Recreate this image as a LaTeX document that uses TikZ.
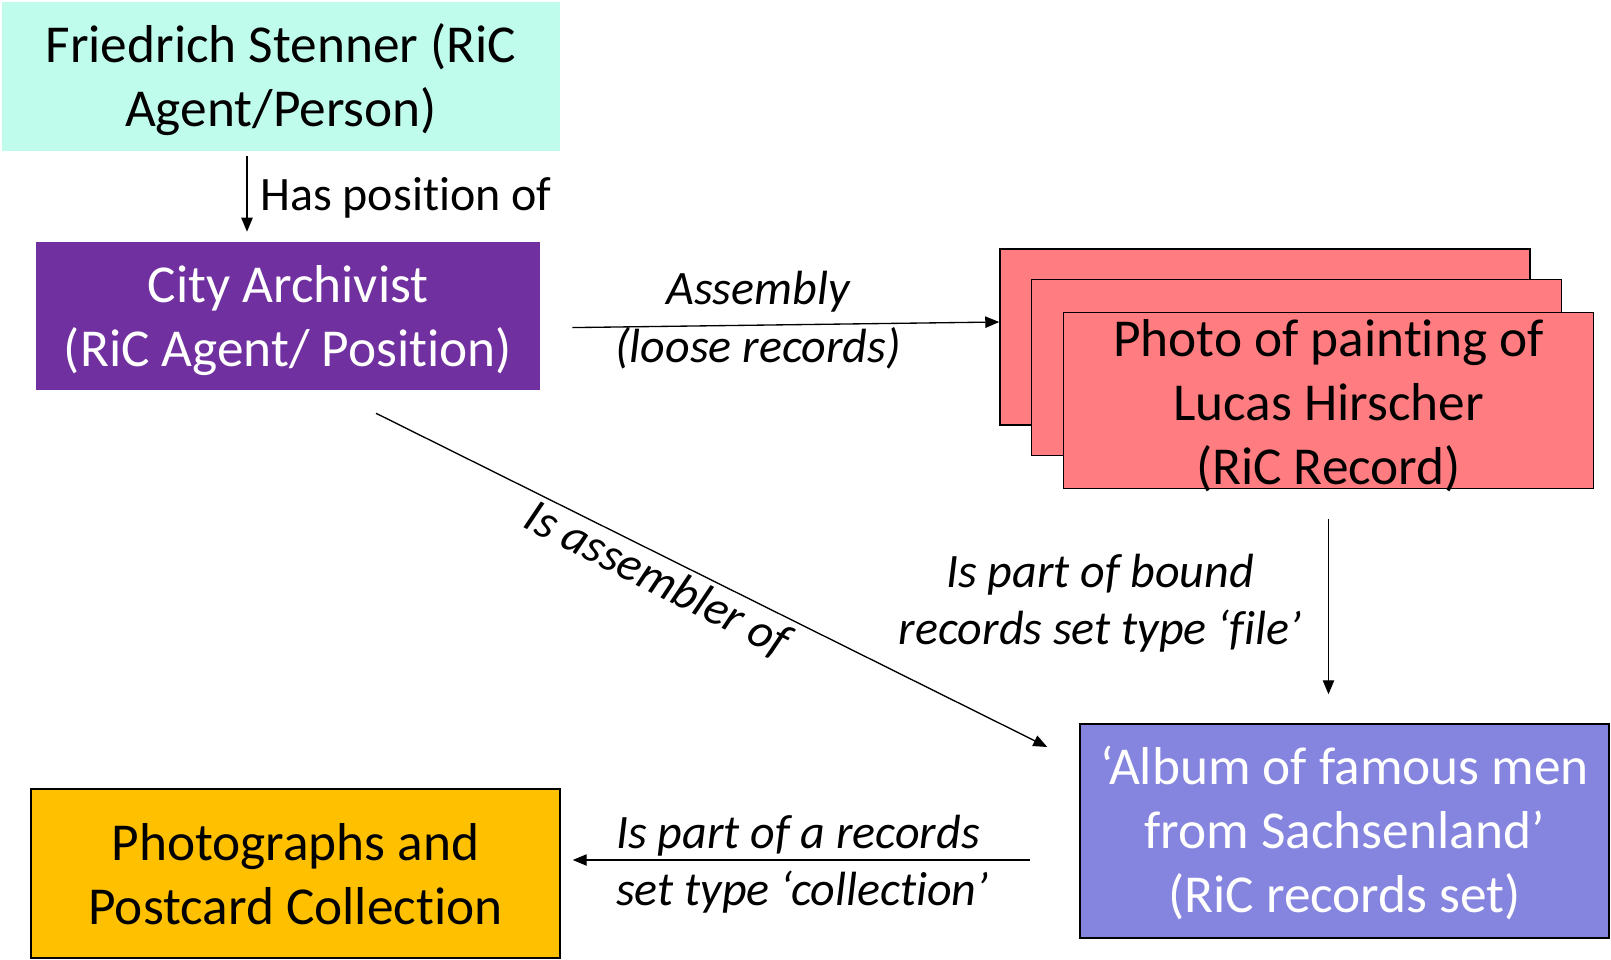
\documentclass[tikz,border=0pt]{standalone}
\usepackage{fontspec}
\setmainfont[Ligatures=NoCommon,RawFeature={-liga;-clig;-calt}]{Carlito}
\usetikzlibrary{arrows.meta}
\definecolor{cyanbox}{RGB}{192,252,236}
\definecolor{purplebox}{RGB}{112,48,160}
\definecolor{redbox}{RGB}{255,124,128}
\definecolor{bluebox}{RGB}{133,133,224}
\definecolor{orangebox}{RGB}{255,192,0}
\begin{document}
\begin{tikzpicture}[x=0.75pt,y=-0.75pt,
 box/.style={rectangle, inner sep=0pt},
 bordered/.style={box, draw=black, line width=1.1pt},
 boxtext/.style={inner sep=0pt, align=center, font=\fontsize{40}{48}\selectfont},
 lbl/.style={font=\fontsize{36}{43}\selectfont\itshape, align=center, inner sep=0pt},
 arr/.style={-{Triangle[length=10.5pt,width=8.5pt]}, line width=1pt}]
\useasboundingbox (0,0) rectangle (1611,960);
% boxes
\node[box, fill=cyanbox, minimum width=418.5pt, minimum height=111.75pt] (fs) at (281,76.5) {};
\node[boxtext] (fst) at (281,79.5) {Friedrich Stenner (RiC\\Agent/Person)};
\node[box, fill=purplebox, minimum width=378pt, minimum height=111pt] (ca) at (288,316) {};
\node[boxtext, text=white] (cat) at (288,321) {City Archivist\\(RiC Agent/ Position)};
\node[bordered, fill=redbox, minimum width=397.5pt, minimum height=132pt] (r1) at (1265,337) {};
\node[bordered, fill=redbox, minimum width=397.5pt, minimum height=132pt] (r2) at (1296.5,367.5) {};
\node[bordered, fill=redbox, minimum width=397.5pt, minimum height=132pt] (r3) at (1328.5,400.5) {};
\node[boxtext] (r3t) at (1328.5,406) {Photo of painting of\\Lucas Hirscher\\(RiC Record)};
\node[bordered, fill=bluebox, minimum width=396.75pt, minimum height=160.5pt] (al) at (1344.5,831) {};
\node[boxtext, text=white] (alt) at (1344.5,833) {‘Album of famous men\\from Sachsenland’\\(RiC records set)};
\node[bordered, fill=orangebox, minimum width=396.75pt, minimum height=126.75pt] (ph) at (295.5,873.5) {};
\node[boxtext] (pht) at (295.5,874.5) {Photographs and\\Postcard Collection};
% connectors
\draw[arr, shorten <=3.75pt, shorten >=7.5pt] ([xshift=-25.5pt]fs.south) -- ([xshift=-30.75pt]ca.north);
\draw[arr, shorten <=24pt] ([yshift=-9pt]ca.east) -- ([yshift=11.25pt]r1.west);
\draw[arr] ([xshift=66pt,yshift=-17.25pt]ca.south) -- ([xshift=-24pt,yshift=63pt]al.west);
\draw[arr, shorten <=22.5pt, shorten >=21.75pt] (r3.south) -- ([xshift=-12pt]al.north);
\draw[arr, shorten <=36.75pt, shorten >=9pt] ([yshift=-21.75pt]al.west) -- ([yshift=10.125pt]ph.east);
% labels
\node[lbl, font=\fontsize{36}{43}\selectfont, anchor=west] (l1) at (260,198) {Has position of};
\node[lbl] (l2) at (758,320) {Assembly\\(loose records)};
\node[lbl, rotate=-27] (l3) at (657,580) {Is assembler of};
\node[lbl] (l4) at (1100,603) {Is part of bound\\records set type ‘file’};
\node[lbl, align=left, anchor=west] (l5) at (616,864.5) {Is part of a records\\set type ‘collection’};
\end{tikzpicture}
\end{document}
